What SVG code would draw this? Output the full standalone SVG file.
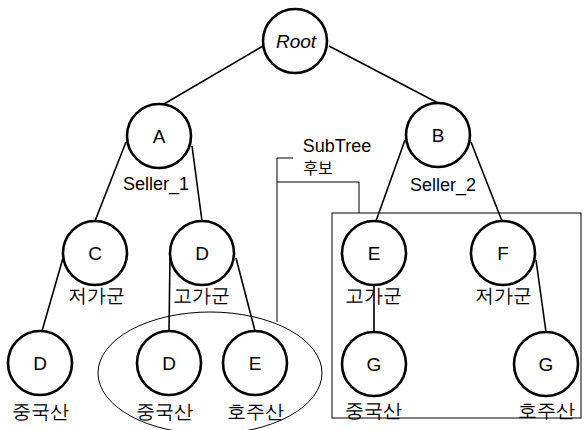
<svg xmlns="http://www.w3.org/2000/svg" width="584" height="430" viewBox="0 0 584 430">
<style>
.bg{fill:#fff}
.n circle{fill:#fff;stroke:#000;stroke-width:2.6}
.n text,.lbl{font-family:"Liberation Sans",Arial,sans-serif;font-size:19px;fill:#000;text-anchor:middle}
.kr{font-family:"Noto Sans CJK KR","Noto Sans",sans-serif;font-size:17px;fill:#000;text-anchor:middle}
.cn line{stroke:#000;stroke-width:1.6}
.thin{fill:none;stroke:#000;stroke-width:1}
</style>
<rect class="bg" x="0" y="0" width="584" height="430"/>
<g id="annotations">
<ellipse class="thin" cx="210" cy="373" rx="112" ry="61"/>
<rect class="thin" x="332" y="213" width="249" height="205" stroke-width="1.2"/>
<polyline class="thin" points="293,158 277,158 277,322"/>
<polyline class="thin" points="277,182 359,182 359,213"/>
<text class="lbl" x="337" y="152" style="font-size:18px">SubTree</text>
<text class="kr" x="318" y="174" style="font-size:16px">후보</text>
</g>
<g id="connectors" class="cn">
<line x1="263" y1="46" x2="164" y2="104"/>
<line x1="329" y1="46" x2="438" y2="103"/>
<line x1="126" y1="142" x2="95" y2="221"/>
<line x1="192" y1="146" x2="202" y2="221"/>
<line x1="405" y1="140" x2="376" y2="221"/>
<line x1="471" y1="142" x2="502" y2="221"/>
<line x1="63" y1="258" x2="42" y2="331"/>
<line x1="170" y1="256" x2="169" y2="331"/>
<line x1="236" y1="258" x2="255" y2="331"/>
<line x1="374" y1="285" x2="374" y2="332"/>
<line x1="536" y1="260" x2="546" y2="332"/>
</g>
<g id="root" class="n"><circle cx="295" cy="41" r="32"/><text x="296" y="48" font-style="italic">Root</text></g>
<g id="A" class="n"><circle cx="159" cy="136" r="32"/><text x="159" y="143">A</text><text x="156" y="190" style="font-size:18px">Seller_1</text></g>
<g id="B" class="n"><circle cx="438" cy="135" r="32"/><text x="438" y="142">B</text><text x="443" y="191" style="font-size:18px">Seller_2</text></g>
<g id="C" class="n"><circle cx="95" cy="253" r="32"/><text x="95" y="260">C</text><text class="kr" x="96" y="302">저가군</text></g>
<g id="D1" class="n"><circle cx="202" cy="253" r="32"/><text x="202" y="260">D</text><text class="kr" x="201" y="302">고가군</text></g>
<g id="E1" class="n"><circle cx="374" cy="253" r="32"/><text x="374" y="260">E</text><text class="kr" x="373" y="302">고가군</text></g>
<g id="F" class="n"><circle cx="503" cy="253" r="32"/><text x="503" y="260">F</text><text class="kr" x="503" y="302">저가군</text></g>
<g id="D2" class="n"><circle cx="40" cy="363" r="32"/><text x="40" y="370">D</text><text class="kr" x="40" y="418">중국산</text></g>
<g id="D3" class="n"><circle cx="169" cy="363" r="32"/><text x="169" y="370">D</text><text class="kr" x="164" y="418">중국산</text></g>
<g id="E2" class="n"><circle cx="255" cy="363" r="32"/><text x="255" y="370">E</text><text class="kr" x="255" y="418">호주산</text></g>
<g id="G1" class="n"><circle cx="374" cy="364" r="32"/><text x="374" y="371">G</text><text class="kr" x="373" y="417">중국산</text></g>
<g id="G2" class="n"><circle cx="546" cy="364" r="32"/><text x="546" y="371">G</text><text class="kr" x="546" y="417">호주산</text></g>
</svg>
